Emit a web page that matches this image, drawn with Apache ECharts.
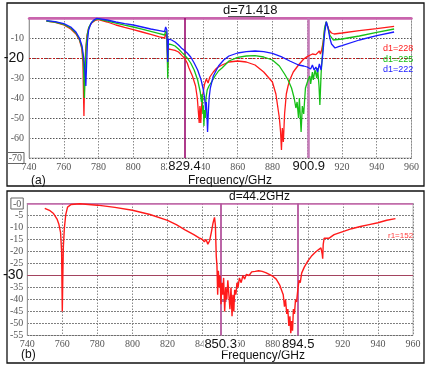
<!DOCTYPE html>
<html><head><meta charset="utf-8">
<script src="https://cdn.jsdelivr.net/npm/echarts@6/dist/echarts.min.js"></script>
<style>html,body{margin:0;padding:0;background:#fff}#c{width:429px;height:368px}</style>
</head><body><div id="c"></div>
<script>
const freqMin = 740, freqMax = 960, freqStep = 20;
const yMinA = -70, yMaxA = 0, yStepA = 10, refA = -20;
const yMinB = -55, yMaxB = 0, yStepB = 5, refB = -30;
const markersA = [829.4, 900.9];
const markersB = [850.3, 894.5];
const namesA = ['d1=228', 'd1=225', 'd1=222'];
const nameB = 'r1=152';
const titleA = 'd=71.418';
const titleB = 'd=44.2GHz';
const axisTitle = 'Frequency/GHz';

const redA = [[750,-1.6],[755,-2.2],[760,-3.5],[764,-5.5],[767,-8],[769,-11],[770.3,-15],[771,-22],[771.6,-49],[772,-30],[772.6,-16],[773.3,-9],[774.3,-5],[776,-2.5],[778,-1.2],[780,-0.8],[785,-2],[790,-3.5],[795,-4.7],[800,-5.8],[805,-7],[810,-8.2],[815,-9.4],[818,-10],[818.6,-8],[819.3,-9.5],[819.8,-25],[820.2,-15.5],[821,-14.5],[822,-15.8],[823,-15],[824,-16.2],[826,-17],[828,-18.8],[829.4,-20],[831,-22.5],[832,-25],[834,-29],[835.8,-34],[836.8,-40],[837.5,-48],[837.9,-52.5],[838.3,-44],[838.8,-52.5],[839.2,-45],[839.6,-40],[840.2,-37],[841,-33],[842,-30.5],[843,-32.5],[844,-29.5],[846,-27],[848,-25],[851,-23.5],[855,-22],[860,-21.5],[865,-22],[870,-23.5],[875,-27],[878,-30],[880,-32],[882,-38],[883,-44],[884,-50],[884.7,-57],[885.2,-66],[885.7,-55],[886.3,-62],[887,-48],[888,-38],[889,-34],[890,-31],[892,-27],[895,-23.5],[898,-20.5],[900,-19.3],[903,-18],[904,-17.2],[905,-18.3],[906,-17.3],[907,-16.5],[907.6,-18],[908.3,-16],[909,-13],[910,-6],[910.8,-2.3],[911.5,-3.5],[912.5,-6],[914,-7.5],[915.5,-8],[920,-7.5],[930,-6.3],[940,-5.3],[950,-4.2]];

const greenA = [[750,-1.5],[755,-2],[760,-3.2],[764,-5],[767,-7.5],[769,-10.5],[770.5,-15],[771.3,-22],[771.9,-40],[772.3,-26],[772.9,-14],[773.6,-8],[774.5,-4.5],[776,-2.2],[778,-1],[780,-0.5],[785,-1.5],[790,-2.6],[795,-3.6],[800,-4.5],[805,-5.6],[810,-6.7],[815,-7.8],[818,-8.5],[818.6,-6.5],[819.3,-8],[819.8,-30],[820.2,-13],[821,-12.3],[822,-13.3],[823,-12.8],[824,-14],[826,-15.5],[828,-17.3],[829.4,-18.5],[831,-20],[833,-22.5],[835,-26],[837,-31],[838.5,-37],[839.2,-42],[839.6,-38],[840,-48],[840.3,-44],[840.6,-54],[841,-46],[841.4,-50],[841.8,-40],[842.5,-36],[843.5,-34],[845,-32],[847,-29],[849,-26.5],[851,-25],[855,-21.5],[860,-19.7],[865,-19],[870,-18.8],[875,-19.5],[880,-21],[884,-24],[887,-28],[889,-31],[891,-35],[892.5,-40],[893.5,-45],[894.2,-42],[895,-50],[895.5,-40],[896.5,-57],[897.2,-44],[898,-48],[899,-35],[900.5,-31],[901.5,-29],[902,-33],[903,-27],[903.5,-31],[904.5,-26],[905.5,-30],[906,-25],[906.8,-34],[907.3,-43.5],[908,-28],[909,-15],[910,-5],[911,-1.8],[912,-5],[913,-8.5],[915,-11],[920,-10.5],[930,-9],[940,-7.2],[950,-5.5]];

const blueA = [[750,-1.3],[755,-1.8],[760,-2.8],[764,-4.5],[767,-7],[769,-10],[770.5,-14],[771.5,-20],[772.3,-28],[772.7,-34],[773.1,-24],[773.6,-12],[774.3,-6],[775.5,-3],[777,-1.2],[779,-0.2],[780,-0.1],[785,-1],[790,-2],[795,-2.8],[800,-3.5],[805,-4.5],[810,-5.5],[815,-6.3],[818,-6.8],[818.6,-4.5],[819.3,-6],[819.8,-22],[820.2,-10.5],[821,-10],[822,-11],[823,-10.6],[824,-12],[826,-13.5],[828,-15.3],[829.4,-16.3],[831,-17.5],[833,-19.5],[835,-22.5],[837,-26],[839,-31],[840.3,-36],[841,-40],[841.6,-46],[842,-42],[842.4,-50],[842.7,-57],[843.1,-48],[843.6,-40],[844.3,-35],[846,-29],[849,-24],[852,-21],[855,-19],[860,-17.5],[865,-16.8],[870,-16.5],[875,-16.8],[880,-17.7],[885,-19.3],[890,-21.5],[895,-23.5],[898,-24],[900,-24.5],[901,-23.5],[902,-25.5],[903,-23.5],[904,-26],[905,-24.5],[906,-27],[907,-23],[908,-26],[909,-18],[910,-8],[911,-1.8],[912,-5],[913,-10],[914,-13],[916,-15],[918,-14.3],[920,-13.8],[930,-11],[940,-8.8],[950,-7]];

const redB = [[750,-2],[753,-3],[755,-4.2],[757,-6.5],[758,-8.5],[759,-12],[759.6,-20],[760,-45],[760.3,-30],[760.6,-18],[761.2,-10],[762,-4.5],[763,-1.5],[765,-0.4],[770,-0.1],[775,-0.4],[780,-0.7],[790,-1.6],[800,-2.8],[810,-4.6],[820,-7],[825,-8.8],[830,-11],[835,-13],[838,-14.3],[840,-15],[841,-16],[842,-15],[843,-17],[844,-15.5],[845,-12],[846,-8],[846.8,-5.8],[847.3,-9],[847.8,-22],[848.2,-26],[848.6,-38],[849,-28],[849.5,-35],[850,-30],[850.5,-42],[851,-33],[851.5,-38],[852,-31],[852.6,-45],[853.2,-35],[853.8,-40],[854.4,-32],[855,-38],[855.6,-44],[856.2,-35],[856.8,-47],[857.3,-38],[857.8,-45],[858.3,-36],[859,-38],[859.6,-33],[860.2,-35],[861,-31],[862,-33],[863,-30],[864,-31.5],[865,-29.5],[866.5,-30],[868,-28.5],[870,-28.3],[872,-28],[874,-28.3],[876,-28.8],[878,-29.5],[880,-30.3],[882,-31.5],[884,-34],[885,-36],[886,-38],[886.7,-43],[887.3,-40],[888,-46],[888.6,-44],[889.2,-51],[889.8,-47],[890.3,-54],[890.8,-49],[891.3,-53],[891.8,-44],[892.4,-46],[893,-40],[893.6,-41],[894.3,-36],[895,-32],[895.7,-33],[896.5,-29],[898,-26.5],[900,-24],[902,-22],[904,-20.5],[906,-19.3],[907.5,-18.5],[908.2,-21],[908.5,-23],[908.8,-17],[909.3,-14.5],[910,-15.2],[912,-14.5],[915,-13],[920,-11.7],[925,-10.5],[930,-9.6],[935,-8.8],[940,-8],[945,-7],[950,-6.3]];

const colorsA = ['#ff1a1a', '#17c017', '#1a1aff'];
const pink = '#c964ad';
const tickFont = "'Liberation Serif', 'DejaVu Serif', serif";
const sansFont = "'Liberation Sans', 'DejaVu Sans', sans-serif";
const bigFont = sansFont;

const richY = {
  s: {fontFamily: tickFont, fontSize: 10, color: '#555'},
  big: {fontFamily: bigFont, fontSize: 14, color: '#111'},
  box: {fontFamily: tickFont, fontSize: 10, color: '#555', borderColor: '#666', borderWidth: 1, padding: [1, 2, 0, 2]}
};

function xAxisCfg(gi) {
  return {
    type: 'value', gridIndex: gi, min: freqMin, max: freqMax, interval: freqStep,
    axisLine: gi === 0 ? {show: true, lineStyle: {color: pink, width: 2.5}} : {show: true, lineStyle: {color: '#999', width: 1}},
    axisTick: {show: false},
    axisLabel: {fontFamily: tickFont, fontSize: 10, color: '#555', margin: 4},
    splitLine: {show: true, lineStyle: {type: [1.5, 1.5], color: '#8a8a8a', width: 1}}
  };
}

function yAxisCfg(gi, mn, mx, st, big, boxVal, hideVal) {
  return {
    type: 'value', gridIndex: gi, min: mn, max: mx, interval: st,
    axisLine: {show: true, lineStyle: {color: '#999', width: 1}},
    axisTick: {show: false},
    axisLabel: {
      margin: gi === 0 ? 5 : 4,
      formatter: function (v) {
        if (hideVal !== null && v === hideVal) return '';
        if (v === big) return '{big|' + v + '}';
        if (v === boxVal) return '{box|' + (v === 0 ? '-0' : v) + '}';
        return '{s|' + v + '}';
      },
      rich: richY
    },
    splitLine: {show: true, lineStyle: {type: [1.5, 1.5], color: '#555', width: 1}}
  };
}

function vMarker(v, color, width) {
  return {
    xAxis: v, lineStyle: {color: color, width: width, type: 'solid'},
    label: {show: true, position: 'start', distance: 2, formatter: '{c}', fontFamily: bigFont, fontSize: 13, color: '#111', backgroundColor: '#fff', padding: [0, 1, 0, 1]}
  };
}
function hLine(v, color, width, type) {
  return {yAxis: v, lineStyle: {color: color, width: width, type: type}, label: {show: false}};
}

const series = [];
[redA, greenA, blueA].forEach(function (d, i) {
  series.push({
    name: namesA[i], type: 'line', xAxisIndex: 0, yAxisIndex: 0, data: d,
    showSymbol: false, symbol: 'none', animation: false,
    lineStyle: {color: colorsA[i], width: 1.3}, itemStyle: {color: colorsA[i]},
    markLine: i === 0 ? {
      silent: true, symbol: 'none', animation: false, z: 1,
      data: [
        hLine(yMaxA, pink, 2, 'solid'),
        hLine(refA, '#c41a1a', 1, [2, 2]),
        vMarker(markersA[0], '#9a0a6e', 1.6),
        vMarker(markersA[1], '#c47bb8', 2.6)
      ]
    } : undefined
  });
});
series.push({
  name: nameB, type: 'line', xAxisIndex: 1, yAxisIndex: 1, data: redB,
  showSymbol: false, symbol: 'none', animation: false,
  lineStyle: {color: '#ff1a1a', width: 1.4}, itemStyle: {color: '#ff1a1a'},
  markLine: {
    silent: true, symbol: 'none', animation: false, z: 1,
    data: [
      hLine(yMaxB, pink, 1.5, 'solid'),
      hLine(refB, '#a3435f', 1.2, 'solid'),
      vMarker(markersB[0], '#b4559e', 1.8),
      vMarker(markersB[1], '#b4559e', 1.8),
      [{coord: [markersB[0], -40.6], lineStyle: {color: '#8e3a8e', width: 1.5}, label: {show: false}}, {coord: [860, -40.6]}]
    ]
  }
});

const option = {
  animation: false,
  backgroundColor: '#fff',
  grid: [
    {left: 29, top: 18, width: 382.5, height: 140, show: true, borderColor: '#bbb', borderWidth: 1, backgroundColor: 'transparent'},
    {left: 25, top: 203.5, width: 388, height: 132, show: true, borderColor: '#bbb', borderWidth: 1, backgroundColor: 'transparent'}
  ],
  xAxis: [xAxisCfg(0), xAxisCfg(1)],
  yAxis: [yAxisCfg(0, yMinA, yMaxA, yStepA, refA, yMinA, yMaxA), yAxisCfg(1, yMinB, yMaxB, yStepB, refB, yMaxB, null)],
  legend: [
    {data: namesA.map(function (n, i) { return {name: n, textStyle: {color: colorsA[i]}}; }),
     orient: 'vertical', left: 378, top: 44, icon: 'none', itemWidth: 0, itemHeight: 10, itemGap: 1, padding: 0,
     selectedMode: false, textStyle: {fontFamily: sansFont, fontSize: 9}},
    {data: [{name: nameB, textStyle: {color: '#ff3a3a'}}],
     orient: 'vertical', left: 383, top: 231, icon: 'none', itemWidth: 0, itemHeight: 10, padding: 0,
     selectedMode: false, textStyle: {fontFamily: sansFont, fontSize: 8}}
  ],
  graphic: [
    {type: 'rect', shape: {x: 7, y: 3, width: 417, height: 183}, style: {fill: 'none', stroke: '#111', lineWidth: 1.3}, silent: true},
    {type: 'rect', shape: {x: 7, y: 191, width: 417, height: 172}, style: {fill: 'none', stroke: '#111', lineWidth: 1.3}, silent: true},
    {type: 'text', left: 223, top: 4, style: {text: titleA, fontFamily: sansFont, fontSize: 13, fill: '#111'}},
    {type: 'line', shape: {x1: 228, y1: 16.5, x2: 265, y2: 16.5}, style: {stroke: '#555', lineWidth: 1}},
    {type: 'text', left: 229, top: 191, style: {text: titleB, fontFamily: sansFont, fontSize: 12, fill: '#111'}},
    {type: 'text', left: 31, top: 175, style: {text: '(a)', fontFamily: sansFont, fontSize: 12, fill: '#111'}},
    {type: 'text', left: 21, top: 349, style: {text: '(b)', fontFamily: sansFont, fontSize: 12, fill: '#111'}},
    {type: 'text', left: 188, top: 175, style: {text: axisTitle, fontFamily: sansFont, fontSize: 12, fill: '#111'}},
    {type: 'text', left: 221, top: 350, style: {text: axisTitle, fontFamily: sansFont, fontSize: 12, fill: '#111'}}
  ],
  series: series
};

const chart = echarts.init(document.getElementById('c'), null, {renderer: 'canvas'});
chart.setOption(option);
</script>
</body></html>
